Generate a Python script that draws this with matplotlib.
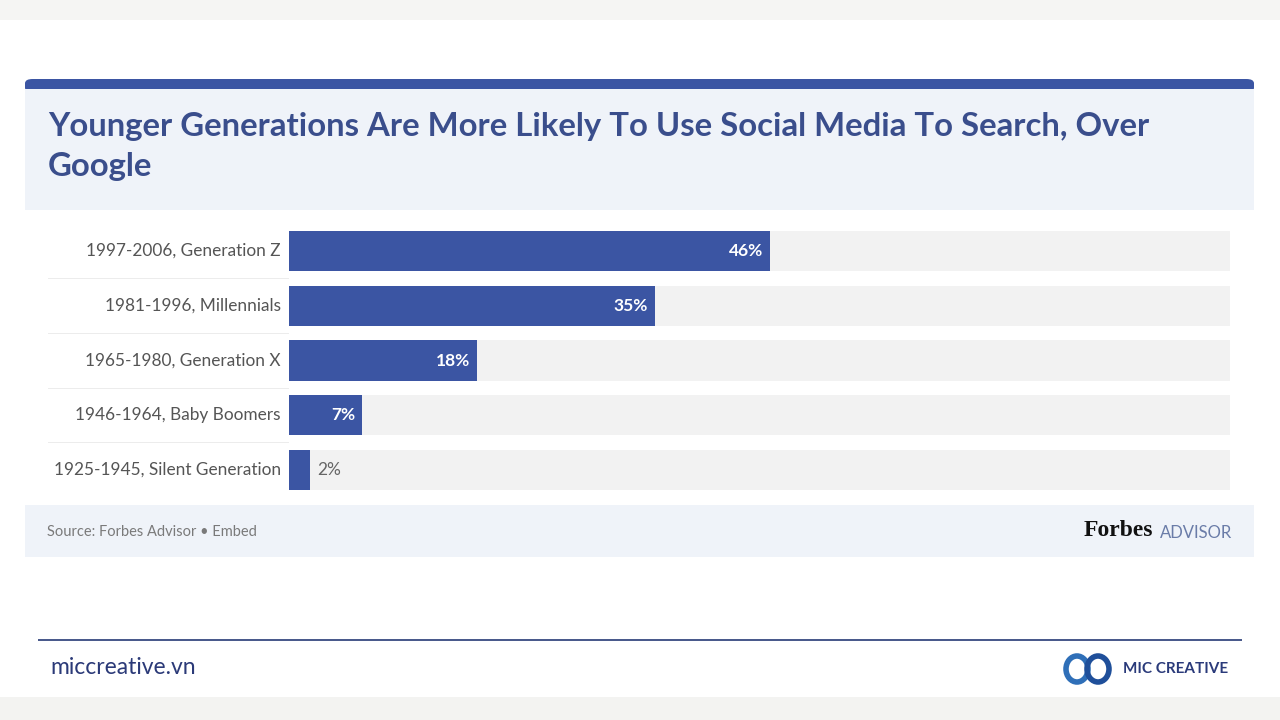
import matplotlib.pyplot as plt
from matplotlib.patches import Rectangle, FancyBboxPatch, Ellipse

# --------------------------------------------------
# Data
# --------------------------------------------------

generations = [
    "1997-2006, Generation Z",
    "1981-1996, Millennials",
    "1965-1980, Generation X",
    "1946-1964, Baby Boomers",
    "1925-1945, Silent Generation",
]
shares = [46, 35, 18, 7, 2]

title = "Younger Generations Are More Likely To Use Social Media To Search, Over\nGoogle"
source = "Source: Forbes Advisor \u2022 Embed"

BLUE = "#3b55a3"
TITLE_BLUE = "#3a4e8c"
PANEL = "#eff3f9"
TRACK = "#f2f2f2"

W, H = 1280, 720
fig = plt.figure(figsize=(12.8, 7.2), dpi=100)
fig.patch.set_facecolor("white")


def px(x, y):
    # pixel coords (top-left origin) -> figure fraction
    return x / W, 1 - y / H


def box(x0, y0, x1, y1, color, **kw):
    fx, fy = px(x0, y1)
    fig.patches.append(Rectangle((fx, fy), (x1 - x0) / W, (y1 - y0) / H,
                                 transform=fig.transFigure, color=color, lw=0, **kw))


# --------------------------------------------------
# Page decoration
# --------------------------------------------------

box(0, 0, W, 20, "#f5f5f3")
box(0, 697, W, H, "#f3f3f1")

# card header
fx, fy = px(25, 92)
fig.patches.append(FancyBboxPatch((fx, fy), 1229 / W, 13 / H,
                                  boxstyle="round,pad=0,rounding_size=0.006",
                                  transform=fig.transFigure, color=BLUE, lw=0))
box(25, 89, 1254, 210, PANEL)

fig.text(48 / W, 1 - 112 / H, title, fontsize=23.7, fontweight="bold",
         color=TITLE_BLUE, family="Lato", va="top", ha="left", linespacing=1.45)

# footer panel
box(25, 505, 1254, 557, PANEL)
fig.text(47 / W, 1 - 532 / H, source, fontsize=10.5, color="#7a7a7a",
         family="Lato", va="center", ha="left")
fig.text(1153 / W, 1 - 530 / H, "Forbes", fontsize=17, fontweight="bold",
         color="#111111", family="Liberation Serif", va="center", ha="right")
fig.text(1160 / W, 1 - 533 / H, "ADVISOR", fontsize=12, color="#6a7ca8",
         family="Lato", va="center", ha="left")

# row separators on the label side
for y in [278, 333, 388, 442]:
    box(48, y, 289, y + 1, "#ececec")

# --------------------------------------------------
# Bars
# --------------------------------------------------

ax = fig.add_axes([289 / W, 1 - 497.5 / H, (1230 - 289) / W, 274 / H])
ax.set_xlim(0, 90)
ax.set_ylim(len(shares) - 0.5, -0.5)
ax.axis("off")

rows = range(len(shares))
ax.barh(rows, [90] * len(shares), height=0.73, color=TRACK, lw=0)
ax.barh(rows, shares, height=0.73, color=BLUE, lw=0)

for i, (name, v) in enumerate(zip(generations, shares)):
    ax.annotate(name, (0, i), xytext=(-6, 0), textcoords="offset points",
                ha="right", va="center", fontsize=12.4, color="#555555", family="Lato")
    if v >= 5:
        ax.annotate(f"{v}%", (v, i), xytext=(-5, 0), textcoords="offset points",
                    ha="right", va="center", fontsize=12.5, color="white",
                    fontweight="bold", family="Lato")
    else:
        ax.annotate(f"{v}%", (v, i), xytext=(5, 0), textcoords="offset points",
                    ha="left", va="center", fontsize=12.5, color="#666666", family="Lato")

# --------------------------------------------------
# Bottom branding
# --------------------------------------------------

box(38, 639, 1242, 641, "#4a5a8c")
fig.text(50 / W, 1 - 668 / H, "miccreative.vn", fontsize=16.5, color="#2b3a78",
         family="Lato", va="center", ha="left")

for cx, col in [(1077, "#2f6fb8"), (1098, "#1f4f9a")]:
    ex, ey = px(cx, 669)
    fig.patches.append(Ellipse((ex, ey), 22 / W, 26 / H, transform=fig.transFigure,
                               fill=False, ec=col, lw=4))
fig.text(1123 / W, 1 - 669 / H, "MIC CREATIVE", fontsize=11, fontweight="bold",
         color="#2a3a7a", family="Lato", va="center", ha="left")

fig.savefig("out.png", dpi=100)
